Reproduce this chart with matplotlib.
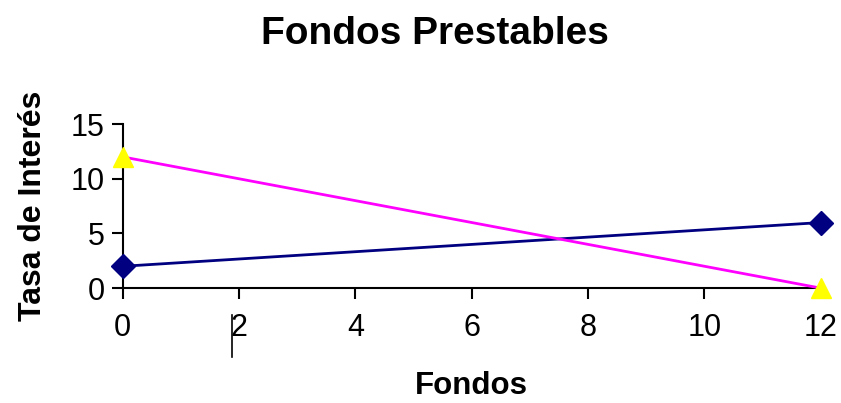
import matplotlib.pyplot as plt
from matplotlib.lines import Line2D

plt.rcParams['font.family'] = ['Liberation Sans', 'DejaVu Sans']

fondos = [0, 12]
oferta = [2, 6]
demanda = [12, 0]
x_ticks = [0, 2, 4, 6, 8, 10, 12]
y_ticks = [0, 5, 10, 15]

fig = plt.figure(figsize=(8.41, 4.03), dpi=100)
ax = fig.add_axes([0.146, 0.285, 0.830, 0.407])

ax.plot(fondos, oferta, color='#000080', lw=2, marker='D', markersize=12,
        markerfacecolor='#000080', markeredgecolor='#000080', clip_on=False, zorder=3)
ax.plot(fondos, demanda, color='#FF00FF', lw=2, marker='^', markersize=15,
        markerfacecolor='#FFFF00', markeredgecolor='#FFFF00', clip_on=False, zorder=3)

ax.set_xlim(0, 12)
ax.set_ylim(0, 15)
ax.set_xticks(x_ticks)
ax.set_yticks(y_ticks)
ax.tick_params(labelsize=22, length=8, width=1.5, direction='out', pad=10)
ax.tick_params(axis='y', pad=5)

for s in ['top', 'right']:
    ax.spines[s].set_visible(False)
for s in ['left', 'bottom']:
    ax.spines[s].set_linewidth(1.5)

ax.set_title('Fondos Prestables', fontsize=28, fontweight='bold', pad=58, x=0.447)
ax.set_xlabel('Fondos', fontsize=22.5, fontweight='bold', labelpad=20)
ax.set_ylabel('Tasa de Interés', fontsize=23, fontweight='bold', labelpad=16)

# stray mark under the "2" tick label
fig.add_artist(Line2D([232 / 841, 232 / 841], [1 - 315 / 403, 1 - 357 / 403],
                      color='black', lw=1.2))

fig.savefig('out.png', dpi=100)
